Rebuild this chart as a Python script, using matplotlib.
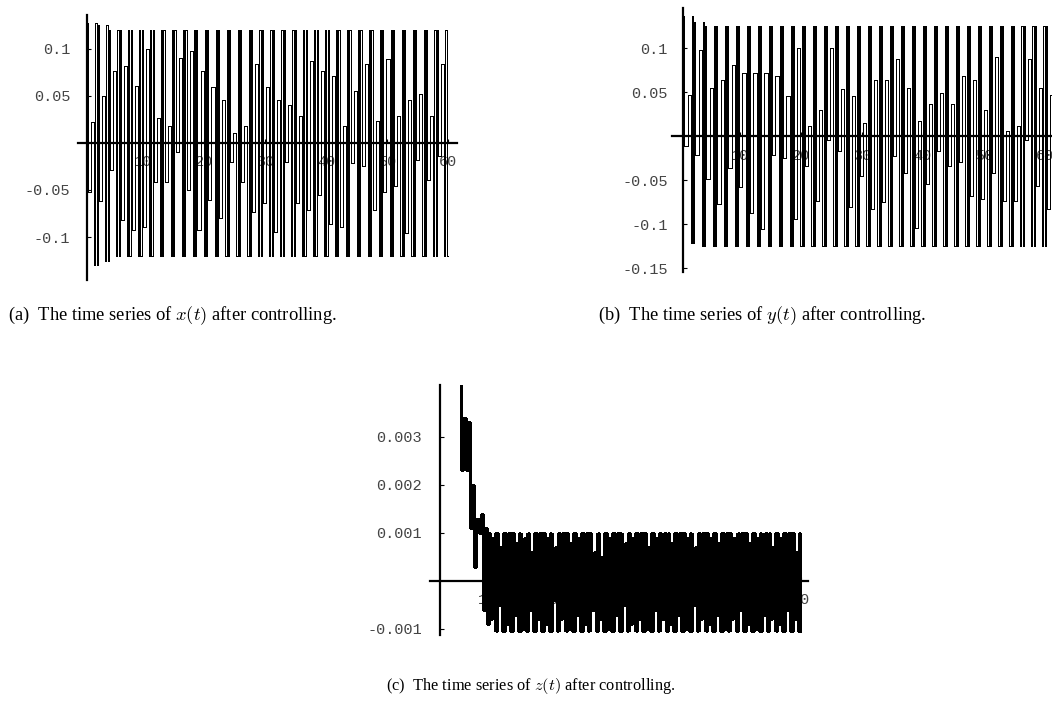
import numpy as np
import matplotlib.pyplot as plt

plt.rcParams['mathtext.fontset'] = 'cm'

# ---- (a) x(t): turning points ----
x_hi = [0.127, 0.125] + [0.12] * 31          # full-height peaks
x_lo = [-0.13, -0.125] + [-0.12] * 31        # full-depth troughs
x_mid_hi = [0.022, 0.05, 0.077, 0.082, 0.061, 0.10, 0.027, 0.018, 0.09, 0.098,
            0.077, 0.059, 0.046, 0.011, 0.018, 0.084, 0.059, 0.046, 0.04, 0.029,
            0.087, 0.077, 0.071, 0.018, 0.055, 0.084, 0.023, 0.089, 0.029, 0.046,
            0.052, 0.029, 0.084]
x_mid_lo = [-0.052, -0.062, -0.029, -0.082, -0.093, -0.089, -0.041, -0.041, -0.01, -0.05,
            -0.093, -0.061, -0.08, -0.02, -0.041, -0.073, -0.064, -0.095, -0.02, -0.064,
            -0.071, -0.055, -0.086, -0.089, -0.021, -0.025, -0.071, -0.052, -0.046, -0.096,
            -0.018, -0.039, -0.014]
x_span = (0.8, 60.0)

# ---- (b) y(t) ----
y_hi = [0.136, 0.13] + [0.125] * 32
y_lo = [-0.122] + [-0.125] * 33
y_mid_hi = [0.047, 0.098, 0.055, 0.064, 0.081, 0.072, 0.072, 0.072, 0.068, 0.045,
            0.10, 0.011, 0.03, 0.10, 0.053, 0.045, 0.015, 0.064, 0.064, 0.087,
            0.055, 0.017, 0.036, 0.049, 0.036, 0.068, 0.064, 0.03, 0.09, 0.006,
            0.011, 0.087, 0.055, 0.047]
y_mid_lo = [-0.011, -0.021, -0.049, -0.077, -0.036, -0.058, -0.087, -0.106, -0.021, -0.025,
            -0.094, -0.034, -0.074, -0.005, -0.017, -0.081, -0.045, -0.083, -0.075, -0.023,
            -0.042, -0.104, -0.055, -0.017, -0.034, -0.03, -0.068, -0.072, -0.042, -0.074,
            -0.074, -0.004, -0.057, -0.083]
y_span = (0.7, 62.0)

# ---- (c) z(t) ----
z_start = [0.0045, 0.0023, 0.0034, 0.0023, 0.0033, 0.0011, 0.0020, 0.0003,
           0.0013, 0.0010, 0.0014, -0.0006, 0.0011, -0.0009]
z_hi = [0.001] * 40
z_lo = [-0.00105] * 40
z_mid_hi = [0.0009, 0.0007, 0.0010, 0.0008, 0.0009, 0.0006, 0.0010, 0.0009, 0.0007, 0.0010,
            0.0008, 0.0009, 0.0010, 0.0006, 0.0005, 0.0009, 0.0010, 0.0008, 0.0009, 0.0010,
            0.0007, 0.0009, 0.0010, 0.0008, 0.0010, 0.0009, 0.0007, 0.0010, 0.0009, 0.0008,
            0.0010, 0.0009, 0.0010, 0.0008, 0.0009, 0.0010, 0.0007, 0.0009, 0.0010, 0.0006]
z_mid_lo = [-0.0008, -0.0005, -0.0009, -0.0007, -0.0010, -0.0006, -0.0008, -0.0009, -0.0004, -0.0008,
            -0.0010, -0.0007, -0.0009, -0.0006, -0.0008, -0.0010, -0.0007, -0.0005, -0.0009, -0.0008,
            -0.0010, -0.0006, -0.0008, -0.0009, -0.0007, -0.0010, -0.0005, -0.0008, -0.0009, -0.0007,
            -0.0010, -0.0008, -0.0006, -0.0009, -0.0010, -0.0007, -0.0008, -0.0009, -0.0006, -0.0008]
z_span = (5.6, 59.9)

t_ticks = [10, 20, 30, 40, 50, 60]
captions = ["(a)  The time series of $x(t)$ after controlling.",
            "(b)  The time series of $y(t)$ after controlling.",
            "(c)  The time series of $z(t)$ after controlling."]

# hold time of each turning point inside one cycle: full max, partial min,
# partial max, full min, full max again, full min again
HOLDS = (0.1, 0.25, 0.25, 0.1, 0.1, 0.1)


def zigzag(span, hi, mid_lo, mid_hi, lo, head=()):
    vals, w = [], []
    for v in head:
        vals.append(v)
        w.append(0.25)
    for a, b, c, d in zip(hi, mid_lo, mid_hi, lo):
        vals += [a, b, c, d, a, d]
        w += list(HOLDS)
    vals.append(vals[-1])
    edges = np.concatenate([[0], np.cumsum(w)])
    t = span[0] + (span[1] - span[0]) * edges / edges[-1]
    return t, np.array(vals)


def mma_axes(ax, x0, yticks, ylabels, ypad):
    # Mathematica-like axes crossing the plot
    ax.spines['top'].set_visible(False)
    ax.spines['right'].set_visible(False)
    ax.spines['bottom'].set_position(('data', 0))
    ax.spines['left'].set_position(('data', x0))
    for s in ['bottom', 'left']:
        ax.spines[s].set_linewidth(1.6)
        ax.spines[s].set_zorder(3)
    ax.set_axisbelow(True)
    ax.set_xticks(t_ticks)
    ax.set_xticklabels([str(v) for v in t_ticks])
    ax.set_yticks(yticks)
    ax.set_yticklabels(ylabels)
    ax.tick_params(axis='x', direction='in', length=3, width=0.8, pad=9)
    ax.tick_params(axis='y', direction='in', length=3, width=0.8, pad=ypad)
    for lab in ax.get_xticklabels() + ax.get_yticklabels():
        lab.set_fontfamily('Liberation Mono')
        lab.set_fontsize(11)
        lab.set_color('#444444')
    ax.patch.set_visible(False)


fig = plt.figure(figsize=(10.52, 7.09), dpi=100)
W, H = 1052, 709


def add_ax(x_px0, x_px1, y_px0, y_px1):
    return fig.add_axes([x_px0 / W, 1 - y_px1 / H, (x_px1 - x_px0) / W, (y_px1 - y_px0) / H])


# (a)
ax1 = add_ax(78, 457, 15, 280)
tx, xv = zigzag(x_span, x_hi, x_mid_lo, x_mid_hi, x_lo)
ax1.plot(tx, xv, color='black', lw=0.5, drawstyle='steps-post', antialiased=False)
ax1.set_xlim(-0.66, 61.5)
ax1.set_ylim(-0.1457, 0.136)
mma_axes(ax1, 0.82, [-0.1, -0.05, 0.05, 0.1], ['-0.1', '-0.05', '0.05', '0.1'], 12)

# (b)
ax2 = add_ax(672, 1063, 8, 272)
ty, yv = zigzag(y_span, y_hi, y_mid_lo, y_mid_hi, y_lo)
ax2.plot(ty, yv, color='black', lw=0.5, drawstyle='steps-post', antialiased=False)
ax2.set_xlim(-1.15, 63.0)
ax2.set_ylim(-0.1545, 0.1455)
mma_axes(ax2, 0.66, [-0.15, -0.1, -0.05, 0.05, 0.1],
         ['-0.15', '-0.1', '-0.05', '0.05', '0.1'], 11)

# (c)
ax3 = add_ax(430, 808, 385, 635)
tz, zv = zigzag(z_span, z_hi, z_mid_lo, z_mid_hi, z_lo, head=z_start)
ax3.plot(tz, zv, color='black', lw=0.8, drawstyle='steps-post', antialiased=False)
ax3.set_xlim(0.96, 61.1)
ax3.set_ylim(-0.001125, 0.00408)
mma_axes(ax3, 2.55, [-0.001, 0.001, 0.002, 0.003],
         ['-0.001', '0.001', '0.002', '0.003'], 13)

# captions
fig.text(8 / W, 1 - 316 / H, captions[0], family='Liberation Serif', fontsize=13.3, va='center')
fig.text(598 / W, 1 - 316 / H, captions[1], family='Liberation Serif', fontsize=13.3, va='center')
fig.text(531 / W, 1 - 686 / H, captions[2], family='Liberation Serif', fontsize=11.8,
         va='center', ha='center')

fig.savefig('out.png', dpi=100)
